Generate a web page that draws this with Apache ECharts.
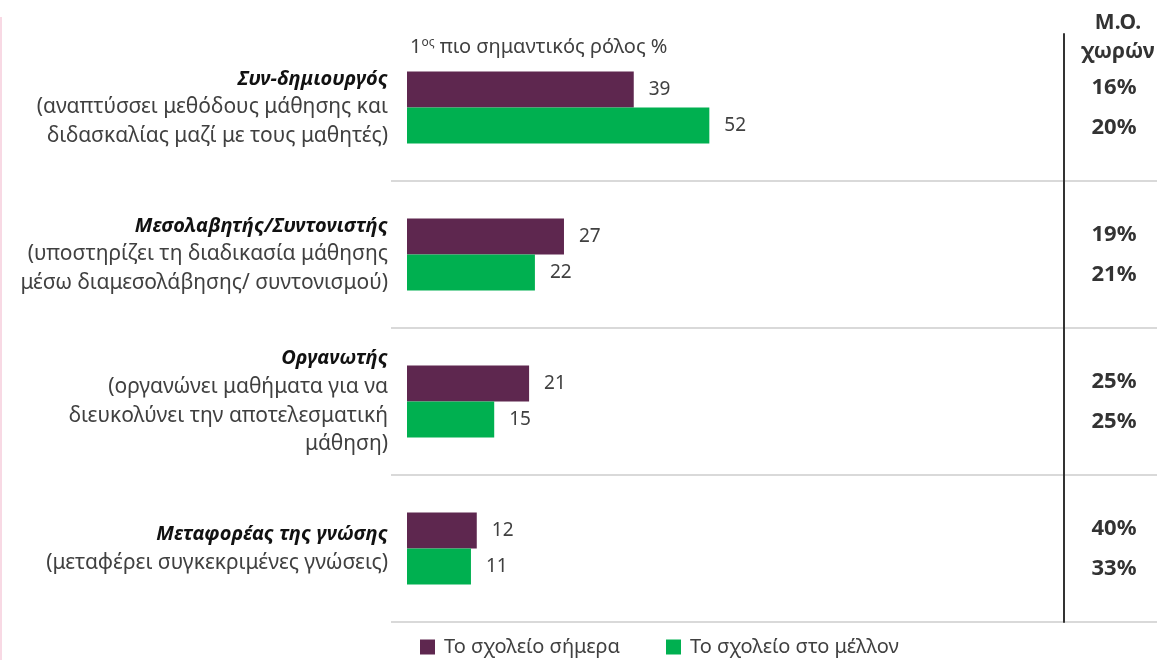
<!DOCTYPE html>
<html>
<head>
<meta charset="utf-8">
<script src="https://cdn.jsdelivr.net/npm/echarts@6/dist/echarts.min.js"></script>
<style>
  html, body { margin: 0; padding: 0; background: #fff; }
  #chart { width: 1157px; height: 660px; }
</style>
</head>
<body>
<div id="chart"></div>
<script>
// data
const roleTitles = ['Συν-δημιουργός', 'Μεσολαβητής/Συντονιστής', 'Οργανωτής', 'Μεταφορέας της γνώσης']
const roleNotes = [
  ['(αναπτύσσει μεθόδους μάθησης και', 'διδασκαλίας μαζί με τους μαθητές)'],
  ['(υποστηρίζει τη διαδικασία μάθησης', 'μέσω διαμεσολάβησης/ συντονισμού)'],
  ['(οργανώνει μαθήματα για να', 'διευκολύνει την αποτελεσματική', 'μάθηση)'],
  ['(μεταφέρει συγκεκριμένες γνώσεις)']
]
const schoolToday = [39, 27, 21, 12]
const schoolFuture = [52, 22, 15, 11]
const avgToday = ['16%', '19%', '25%', '40%']
const avgFuture = ['20%', '21%', '25%', '33%']
const seriesNames = ['Το σχολείο σήμερα', 'Το σχολείο στο μέλλον']

const font = 'Noto Sans'
const grey = '#404040'

const chart = echarts.init(document.getElementById('chart'), null, { renderer: 'canvas' })

chart.setOption({
  animation: false,
  color: ['#5E274F', '#00B050'],
  textStyle: { fontFamily: font },
  title: [{
    left: 405,
    top: 32,
    text: '{a|1}{s|ος}{a| πιο σημαντικός ρόλος %}',
    textStyle: {
      fontWeight: 'normal',
      rich: {
        a: { fontSize: 20, color: grey, fontFamily: font, fontWeight: 'normal' },
        s: { fontSize: 12, color: grey, fontFamily: font, fontWeight: 'normal', padding: [0, 0, 9, 0] }
      }
    }
  }, {
    left: 1113,
    top: 4,
    textAlign: 'center',
    text: 'Μ.Ο.\nχωρών',
    textStyle: { fontSize: 21, fontWeight: 'bold', color: '#333', lineHeight: 29, fontFamily: font }
  }],
  legend: {
    left: 415,
    top: 632,
    icon: 'rect',
    itemWidth: 15,
    itemHeight: 15,
    itemGap: 46,
    textStyle: { fontSize: 20, color: grey, padding: [0, 0, 0, 4] },
    data: seriesNames
  },
  grid: [
    { left: 407, right: 93, top: 34, bottom: 38 },
    // only used for the grey separators between groups
    { left: 391, right: 0, top: 181, bottom: 38 }
  ],
  xAxis: [
    { type: 'value', min: 0, max: 113, show: false, gridIndex: 0 },
    { type: 'value', show: false, gridIndex: 1 }
  ],
  yAxis: [{
    type: 'category',
    gridIndex: 0,
    inverse: true,
    data: roleTitles,
    axisLine: { show: false },
    axisTick: { show: false },
    axisLabel: {
      margin: 19,
      align: 'right',
      formatter: function (value, idx) {
        const lines = roleNotes[idx].map(n => '{d|' + n + '}')
        return ['{t|' + roleTitles[idx] + '}'].concat(lines).join('\n')
      },
      rich: {
        t: { fontSize: 20, fontWeight: 'bold', fontStyle: 'italic', color: '#111', lineHeight: 28.5, fontFamily: font, align: 'right' },
        d: { fontSize: 21, color: grey, lineHeight: 28.5, fontFamily: font, align: 'right' }
      }
    }
  }, {
    type: 'category',
    gridIndex: 0,
    position: 'right',
    inverse: true,
    data: roleTitles,
    axisLine: { show: true, lineStyle: { color: '#333', width: 2 } },
    axisTick: { show: false },
    axisLabel: {
      margin: 50,
      align: 'center',
      formatter: function (value, idx) {
        return '{v|' + avgToday[idx] + '}\n{v|' + avgFuture[idx] + '}'
      },
      rich: {
        v: { fontSize: 22, fontWeight: 'bold', color: '#333', lineHeight: 40, fontFamily: font }
      }
    }
  }, {
    type: 'value',
    gridIndex: 1,
    min: 0,
    max: 3,
    interval: 1,
    axisLine: { show: false },
    axisTick: { show: false },
    axisLabel: { show: false },
    splitLine: { show: true, lineStyle: { color: '#d9d9d9', width: 2 } }
  }],
  series: [{
    name: seriesNames[0],
    type: 'bar',
    xAxisIndex: 0,
    yAxisIndex: 0,
    barGap: '0%',
    barCategoryGap: '51%',
    data: schoolToday,
    label: { show: true, position: 'right', distance: 15, fontSize: 19, color: grey }
  }, {
    name: seriesNames[1],
    type: 'bar',
    xAxisIndex: 0,
    yAxisIndex: 0,
    barGap: '0%',
    barCategoryGap: '51%',
    data: schoolFuture,
    label: { show: true, position: 'right', distance: 15, fontSize: 19, color: grey }
  }],
  graphic: [{
    type: 'line',
    shape: { x1: 1, y1: 17, x2: 1, y2: 660 },
    style: { stroke: '#f8d9e4', lineWidth: 2 }
  }]
})
</script>
</body>
</html>
